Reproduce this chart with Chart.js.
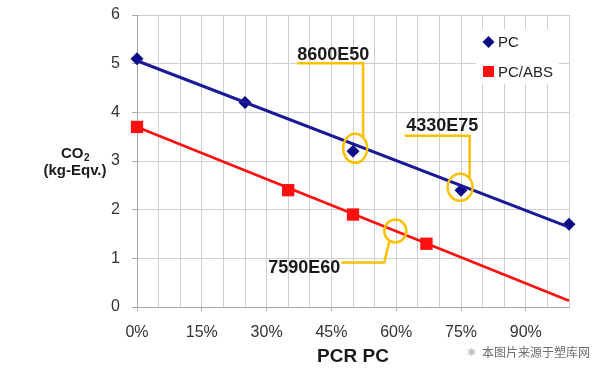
<!DOCTYPE html>
<html>
<head>
<meta charset="utf-8">
<script src="https://cdn.jsdelivr.net/npm/chart.js@4.4.1/dist/chart.umd.min.js"></script>
<style>
  html, body { margin: 0; padding: 0; background: #fff; }
  #wrap { width: 602px; height: 376px; }
</style>
</head>
<body>
<div id="wrap"><canvas id="co2Chart" width="602" height="376"></canvas></div>
<script>
// series names
const seriesNames = ["PC", "PC/ABS"];

// measured points (x = % PCR, y = kg CO2 eqv.)
const pcX = [0, 25, 50, 75, 100];
const pcY = [5.1, 4.2, 3.2, 2.4, 1.7];
const pcAbsX = [0, 35, 50, 67];
const pcAbsY = [3.7, 2.4, 1.9, 1.3];

// trend lines (start and end of each fitted line)
const pcTrendX = [0, 100];
const pcTrendY = [5.06, 1.64];
const pcAbsTrendX = [0, 100];
const pcAbsTrendY = [3.7, 0.13];

// callouts: grade name and the spot it circles
const calloutNames = ["8600E50", "4330E75", "7590E60"];
const calloutX = [50.5, 74.8, 59.8];
const calloutY = [3.26, 2.46, 1.56];

// axis ticks
const xLabelTicks = [0, 15, 30, 45, 60, 75, 90];
const yMin = 0, yMax = 6;

const toPoints = (xs, ys) => xs.map((x, i) => ({ x: x, y: ys[i] }));

const blueLine = "#1a1a98";
const blueMark = "#0b0b86";
const redColor = "#ff0f0f";
const gold = "#ffc000";
const gridColor = "#cfcfcf";
const axisColor = "#a8a8a8";
const tickFont = "Liberation Sans";

// leader drawing, pixel offsets from each circle center
const calloutStyle = [
  { rx: 12, ry: 14.5, path: [[8, -11], [8, -85], [-58, -85]], text: [-58, -88], align: "left" },
  { rx: 12.5, ry: 13.5, path: [[9.5, -9], [9.5, -51.5], [-55.5, -51.5]], text: [-54, -56], align: "left" },
  { rx: 11, ry: 11.5, path: [[-6, 10], [-11, 31.5], [-54, 31.5]], text: [-55, 42], align: "right" }
];

const decorPlugin = {
  id: "decor",
  beforeDatasetsDraw(chart) {
    const ctx = chart.ctx;
    // legend box, covering the grid
    ctx.save();
    ctx.fillStyle = "#fff";
    ctx.fillRect(476, 29, 83, 55);
    const items = [
      { style: "rectRot", r: 6, color: blueMark, y: 42 },
      { style: "rect", r: 7.8, color: redColor, y: 71.5 }
    ];
    items.forEach((it, i) => {
      ctx.fillStyle = it.color;
      ctx.strokeStyle = it.color;
      Chart.helpers.drawPoint(ctx, { pointStyle: it.style, radius: it.r, rotation: 0, borderWidth: 0 }, 488.5, it.y);
      ctx.fillStyle = "#222";
      ctx.font = "15px " + tickFont;
      ctx.textAlign = "left";
      ctx.textBaseline = "middle";
      ctx.fillText(seriesNames[i], 498, it.y + 1);
    });
    ctx.restore();
  },
  afterDatasetsDraw(chart) {
    const ctx = chart.ctx;
    const xs = chart.scales.x, ys = chart.scales.y;
    ctx.save();
    calloutNames.forEach((name, i) => {
      const st = calloutStyle[i];
      const cx = xs.getPixelForValue(calloutX[i]);
      const cy = ys.getPixelForValue(calloutY[i]);
      ctx.strokeStyle = gold;
      ctx.lineWidth = 2.5;
      ctx.beginPath();
      ctx.ellipse(cx, cy, st.rx, st.ry, 0, 0, Math.PI * 2);
      ctx.stroke();
      ctx.beginPath();
      st.path.forEach((p, k) => {
        if (k === 0) ctx.moveTo(cx + p[0], cy + p[1]);
        else ctx.lineTo(cx + p[0], cy + p[1]);
      });
      ctx.stroke();
      ctx.fillStyle = "#1a1a1a";
      ctx.font = "bold 18px " + tickFont;
      ctx.textAlign = st.align;
      ctx.textBaseline = "alphabetic";
      ctx.fillText(name, cx + st.text[0], cy + st.text[1]);
    });
    ctx.restore();
  },
  afterDraw(chart) {
    const ctx = chart.ctx;
    const area = chart.chartArea;
    ctx.save();
    ctx.fillStyle = "#1a1a1a";
    // y title: CO2 with subscript
    ctx.font = "bold 15px " + tickFont;
    ctx.textBaseline = "alphabetic";
    ctx.textAlign = "left";
    const coW = ctx.measureText("CO").width;
    ctx.font = "bold 10px " + tickFont;
    const subW = ctx.measureText("2").width;
    const startX = 75 - (coW + subW) / 2;
    ctx.font = "bold 15px " + tickFont;
    ctx.fillText("CO", startX, 158);
    ctx.font = "bold 10px " + tickFont;
    ctx.fillText("2", startX + coW + 0.5, 161);
    ctx.font = "bold 15px " + tickFont;
    ctx.textAlign = "center";
    ctx.fillText("(kg-Eqv.)", 75, 175);
    // x title
    ctx.font = "bold 19px " + tickFont;
    ctx.fillText("PCR PC", (area.left + area.right) / 2, 362);
    // source note
    ctx.fillStyle = "#c4c4c4";
    ctx.font = "11px " + tickFont;
    ctx.textAlign = "left";
    ctx.fillText("\u2731", 467, 356);
    ctx.fillStyle = "#6e6e6e";
    ctx.font = "12px 'Noto Sans CJK SC'";
    ctx.fillText("本图片来源于塑库网", 482, 357);
    ctx.restore();
  }
};

new Chart(document.getElementById("co2Chart"), {
  type: "scatter",
  data: {
    datasets: [
      {
        type: "line",
        label: seriesNames[0] + " trend",
        data: toPoints(pcTrendX, pcTrendY),
        borderColor: blueLine,
        borderWidth: 3,
        pointRadius: 0,
        fill: false,
        clip: false
      },
      {
        type: "line",
        label: seriesNames[1] + " trend",
        data: toPoints(pcAbsTrendX, pcAbsTrendY),
        borderColor: redColor,
        borderWidth: 2.6,
        pointRadius: 0,
        fill: false,
        clip: false
      },
      {
        label: seriesNames[0],
        data: toPoints(pcX, pcY),
        pointStyle: "rectRot",
        pointRadius: 6.5,
        backgroundColor: blueMark,
        borderColor: blueMark,
        borderWidth: 0,
        showLine: false,
        clip: false
      },
      {
        label: seriesNames[1],
        data: toPoints(pcAbsX, pcAbsY),
        pointStyle: "rect",
        pointRadius: 8.7,
        backgroundColor: redColor,
        borderColor: redColor,
        borderWidth: 0,
        showLine: false,
        clip: false
      }
    ]
  },
  options: {
    responsive: false,
    animation: false,
    events: [],
    layout: { padding: { left: 0, right: 33, top: 15, bottom: 0 } },
    plugins: {
      legend: { display: false },
      tooltip: { enabled: false },
      title: { display: false }
    },
    scales: {
      x: {
        type: "linear",
        min: 0,
        max: 100,
        afterFit: (s) => { s.height = 69; s.paddingLeft = 0; s.paddingRight = 0; },
        afterBuildTicks: (s) => {
          const t = [];
          for (let v = 0; v <= 100; v += 5) t.push({ value: v });
          s.ticks = t;
        },
        ticks: {
          autoSkip: false,
          maxRotation: 0,
          padding: 12,
          color: "#333",
          font: { family: tickFont, size: 16 },
          callback: (v) => (xLabelTicks.includes(v) ? v + "%" : "")
        },
        grid: {
          color: gridColor,
          lineWidth: 1,
          tickLength: 4,
          tickColor: (c) => (c.tick && xLabelTicks.includes(c.tick.value) ? axisColor : "rgba(0,0,0,0)")
        },
        border: { color: axisColor, width: 1 }
      },
      y: {
        min: yMin,
        max: yMax,
        afterFit: (s) => { s.width = 137; s.paddingTop = 0; s.paddingBottom = 0; },
        ticks: {
          stepSize: 1,
          padding: 12,
          color: "#333",
          font: { family: tickFont, size: 16 }
        },
        grid: {
          color: gridColor,
          lineWidth: 1,
          tickLength: 5,
          tickColor: axisColor
        },
        border: { color: axisColor, width: 1 }
      }
    }
  },
  plugins: [decorPlugin]
});
</script>
</body>
</html>
